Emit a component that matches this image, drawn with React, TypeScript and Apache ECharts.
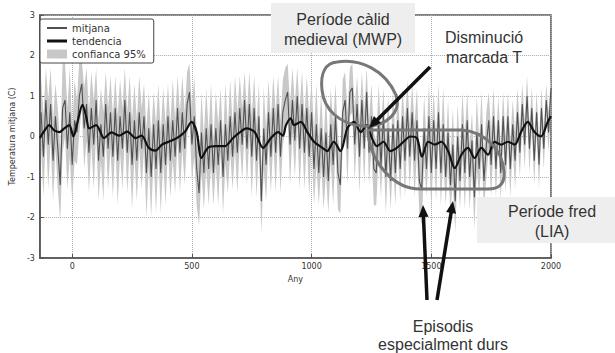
import { useEffect, useRef } from "react";
import * as echarts from "echarts";

// ---- data ----
const START_YEAR = -130;
const STEP = 10;

// annual mean temperature anomaly, sampled every 10 years from -130 to 2000
const mitjana = [
  0.6, -0.5, 0.9, -0.2, 0.8, -0.6, 0.5, -0.3, -1.2, 0.7,
  0.9, -0.3, 0.6, -0.7, 0.4, 0.1, 1.0, 1.3, 0.2, 0.8,
  -0.4, 0.7, -0.2, 0.9, -0.6, 0.3, -0.5, 0.8, -0.3, 0.6,
  -0.5, 0.7, -0.6, 0.5, -0.3, 0.9, -0.4, 0.6, -0.7, 0.4,
  -0.6, 0.6, -0.3, 0.5, -0.9, 0.2, -1.0, 0.3, -0.8, 0.4,
  -0.9, 0.3, -0.7, 0.5, -0.6, 0.4, -0.5, 0.7, -0.4, 0.6,
  -0.3, 0.8, 1.1, -0.2, 0.5, -0.8, -1.4, 0.1, -0.9, 0.2,
  -0.8, 0.3, -0.9, 0.2, -0.7, 0.4, -1.0, 0.3, -0.6, 0.5,
  -0.5, 0.6, -0.4, 0.7, -0.2, 0.9, -0.3, 0.8, -0.5, 0.7,
  -0.6, 0.5, -1.6, 0.2, -0.7, 0.6, -0.5, 0.7, -0.4, 0.8,
  -0.5, 0.6, 0.9, 1.1, -0.2, 0.9, -0.1, 1.0, -0.3, 0.8,
  -0.4, 0.7, -0.5, 0.6, -0.8, 0.3, -0.9, 0.2, -1.0, 0.1,
  -1.1, 0.3, -0.7, 0.5, -0.9, -1.2, 0.6, 0.9, -0.3, 1.1,
  1.2, -0.2, 0.8, -0.5, 0.9, -0.3, 1.1, -0.4, 0.5, -0.8,
  -0.9, 0.4, -0.7, 0.5, -1.0, 0.2, -1.1, 0.3, -0.9, 0.4,
  -0.8, 0.5, -0.6, 0.7, -0.5, 0.6, -0.6, 0.4, -1.1, -1.3,
  0.2, -0.8, 0.5, -0.9, 0.4, -0.8, 0.6, -0.9, 0.3, -1.0,
  0.1, -1.2, -0.2, -1.6, 0.0, -1.1, 0.3, -0.9, 0.4, -1.0,
  -0.1, -1.5, 0.1, -0.8, 0.3, -1.1, -0.2, 0.4, -0.7, 0.5,
  -0.8, 0.4, -0.9, 0.5, -0.7, 0.5, -0.8, 0.3, -0.6, 0.6,
  -0.4, 0.8, -0.2, 1.0, -0.3, 0.7, -0.6, 0.6, -0.7, 0.7,
  -0.3, 0.9, 0.1, 1.2,
];

// half width of the 95% confidence band at the same years
const ciHalf = [
  0.9, 1.0, 0.8, 1.1, 0.9, 1.0, 0.8, 1.0, 0.9, 1.1,
  0.9, 1.0, 1.1, 0.9, 1.0, 0.8, 0.9, 0.6, 1.0, 0.9,
  1.0, 0.9, 1.1, 0.8, 1.0, 0.9, 1.1, 0.8, 1.0, 0.9,
  1.0, 0.8, 1.1, 0.9, 1.0, 0.8, 1.0, 0.9, 1.1, 0.9,
  1.0, 0.9, 1.0, 0.8, 1.1, 0.9, 1.0, 0.8, 1.1, 0.9,
  1.0, 0.9, 1.0, 0.8, 0.9, 1.0, 0.9, 0.8, 1.0, 0.9,
  0.9, 0.8, 0.7, 0.9, 1.0, 0.9, 0.8, 1.0, 0.9, 1.0,
  0.9, 1.0, 0.8, 0.9, 1.0, 0.8, 0.9, 1.0, 0.8, 0.9,
  0.8, 0.9, 1.0, 0.8, 0.9, 0.7, 0.9, 0.8, 1.0, 0.8,
  0.9, 0.8, 0.8, 1.0, 0.9, 0.8, 0.9, 0.8, 1.0, 0.7,
  0.9, 0.8, 0.8, 0.7, 1.0, 0.8, 0.9, 0.7, 1.0, 0.8,
  0.9, 0.8, 1.0, 0.8, 0.9, 1.0, 0.8, 0.9, 0.8, 1.0,
  0.8, 0.9, 1.0, 0.8, 0.9, 0.7, 0.8, 0.7, 0.9, 0.6,
  0.6, 0.9, 0.7, 0.9, 0.7, 0.9, 0.6, 0.8, 0.8, 0.9,
  0.8, 0.9, 0.8, 0.7, 0.9, 0.8, 0.7, 0.9, 0.8, 0.7,
  0.8, 0.7, 0.9, 0.7, 0.8, 0.7, 0.9, 0.8, 0.8, 0.9,
  0.8, 0.7, 0.8, 0.9, 0.7, 0.8, 0.7, 0.8, 0.9, 0.7,
  0.8, 0.7, 0.9, 0.8, 0.8, 0.7, 0.8, 0.9, 0.7, 0.8,
  0.7, 0.8, 0.9, 0.7, 0.8, 0.7, 0.8, 0.7, 0.8, 0.7,
  0.7, 0.6, 0.7, 0.6, 0.7, 0.6, 0.7, 0.6, 0.7, 0.6,
  0.6, 0.5, 0.6, 0.5, 0.6, 0.5, 0.6, 0.5, 0.6, 0.5,
  0.5, 0.4, 0.5, 0.4,
];

// smoothed trend
const trendYears = [
  -135, -115, -96, -75, -54, -33, -12, 5, 20, 43, 60, 71, 100, 133, 165, 195,
  230, 265, 290, 320, 348, 375, 403, 437, 470, 499, 520, 540, 567, 600, 637,
  670, 700, 728, 762, 797, 830, 860, 880, 893, 913, 927, 955, 982, 1010, 1045,
  1065, 1093, 1121, 1149, 1177, 1205, 1230, 1252, 1273, 1300, 1329, 1356, 1384,
  1412, 1440, 1461, 1487, 1515, 1542, 1570, 1598, 1626, 1653, 1681, 1709, 1737,
  1764, 1792, 1820, 1848, 1875, 1903, 1931, 1958, 1986, 2000,
];
const tendencia = [
  -0.04, 0.15, 0.28, 0.15, 0.11, 0.2, 0.28, 0.0, 0.3, 0.78, 0.45, 0.2, 0.28,
  -0.04, 0.1, 0.02, 0.12, -0.04, 0.02, -0.28, -0.35, -0.2, -0.13, -0.04, 0.11,
  0.36, 0.11, -0.53, -0.28, -0.24, -0.24, -0.05, 0.1, 0.2, 0.11, -0.28, -0.04,
  0.11, 0.02, 0.28, 0.45, 0.28, 0.36, 0.11, -0.13, -0.28, -0.36, -0.13, -0.36,
  0.2, 0.36, 0.11, 0.28, -0.04, -0.24, -0.13, -0.36, -0.28, -0.13, 0.0, -0.04,
  -0.5, -0.13, -0.2, -0.13, -0.36, -0.78, -0.45, -0.28, -0.53, -0.28, -0.45,
  -0.13, -0.2, -0.13, -0.2, 0.11, 0.36, 0.11, 0.0, 0.36, 0.5,
];

const X_MIN = -135;
const X_MAX = 2000;
const Y_MIN = -3;
const Y_MAX = 3;

// ---- annotation shapes ----
const MWP_PATH =
  "M337 62 C360 58 385 70 396 95 C402 112 386 128 362 126 C340 124 324 110 322 90 C320 72 326 63 337 62 Z";
const LIA_PATH =
  "M368 130 L462 130 C485 132 503 150 504 172 C505 185 498 189 488 189 L420 189 C395 189 372 165 368 134 Z";
echarts.graphic.registerShape("mwpBlob", echarts.graphic.extendPath(MWP_PATH, {}) as any);
echarts.graphic.registerShape("liaBlob", echarts.graphic.extendPath(LIA_PATH, {}) as any);

function arrow(x1: number, y1: number, x2: number, y2: number) {
  const head = 12;
  const dx = x2 - x1;
  const dy = y2 - y1;
  const len = Math.sqrt(dx * dx + dy * dy);
  const ux = dx / len;
  const uy = dy / len;
  const bx = x2 - ux * head;
  const by = y2 - uy * head;
  const px = -uy * head * 0.42;
  const py = ux * head * 0.42;
  return [
    {
      type: "line",
      z: 100,
      shape: { x1, y1, x2: bx + ux * 2, y2: by + uy * 2 },
      style: { stroke: "#111", lineWidth: 3.5 },
    },
    {
      type: "polygon",
      z: 100,
      shape: { points: [[x2, y2], [bx + px, by + py], [bx - px, by - py]] },
      style: { fill: "#111" },
    },
  ];
}

const annFont = "'Liberation Sans', Arial, sans-serif";
const tickFont = "'DejaVu Sans', sans-serif";
const BAND = "#c8c8c8";
const MEAN = "#505050";
const TREND = "#111111";

export default function App() {
  const ref = useRef<HTMLDivElement>(null);
  useEffect(() => {
    if (!ref.current) return;
    const chart = echarts.init(ref.current, null, { renderer: "svg" });
    const years = mitjana.map((_, i) => START_YEAR + i * STEP);
    const meanData = years.map((y, i) => [y, mitjana[i]]);
    const bandData = years.map((y, i) => [
      y,
      +(mitjana[i] - ciHalf[i]).toFixed(2),
      +(mitjana[i] + ciHalf[i]).toFixed(2),
    ]);
    const trendData = trendYears.map((y, i) => [y, tendencia[i]]);

    const textBox = (cx: number, cy: number, text: string, lh = 20) => ({
      type: "text",
      z: 101,
      x: cx,
      y: cy,
      style: {
        text,
        fill: "#333",
        font: `16px ${annFont}`,
        align: "center",
        verticalAlign: "middle",
        lineHeight: lh,
      },
    });

    chart.setOption({
      animation: false,
      backgroundColor: "#fff",
      grid: {
        left: 37,
        right: 64,
        top: 15,
        bottom: 95,
        show: true,
        borderColor: "#555",
        borderWidth: 1.5,
        backgroundColor: "transparent",
      },
      legend: {
        orient: "vertical",
        left: 40,
        top: 19,
        padding: [4, 8, 4, 7],
        itemGap: 3,
        itemWidth: 20,
        itemHeight: 9,
        borderColor: "#444",
        borderWidth: 1,
        borderRadius: 2,
        backgroundColor: "#fff",
        textStyle: { fontSize: 10, color: "#333", fontFamily: tickFont },
        data: [
          { name: "mitjana", icon: "path://M0,0H20V2H0Z" },
          { name: "tendencia", icon: "path://M0,0H20V3H0Z" },
          { name: "confianca 95%", icon: "rect" },
        ],
      },
      xAxis: {
        type: "value",
        min: X_MIN,
        max: X_MAX,
        name: "Any",
        nameLocation: "middle",
        nameGap: 17,
        nameTextStyle: { fontSize: 8, color: "#333", fontFamily: tickFont },
        axisLine: { show: true, onZero: false, lineStyle: { color: "#555", width: 1.5 } },
        axisTick: { show: true, inside: true, length: 4, lineStyle: { color: "#555" } },
        axisLabel: {
          showMinLabel: false,
          fontSize: 8,
          color: "#333",
          margin: 4,
          fontFamily: tickFont,
          formatter: (v: number) => String(v),
        },
        splitLine: { show: true, lineStyle: { type: "dotted", color: "#aaa", width: 1 } },
      },
      yAxis: {
        type: "value",
        min: Y_MIN,
        max: Y_MAX,
        interval: 1,
        name: "Temperatura mitjana (C)",
        nameLocation: "middle",
        nameGap: 21,
        nameTextStyle: { fontSize: 8, color: "#333", fontFamily: tickFont },
        axisLine: { show: true, onZero: false, lineStyle: { color: "#555", width: 1.5 } },
        axisTick: { show: true, inside: true, length: 4, lineStyle: { color: "#555" } },
        axisLabel: { fontSize: 8, color: "#333", margin: 5, fontFamily: tickFont },
        splitLine: { show: true, lineStyle: { type: "dotted", color: "#aaa", width: 1 } },
      },
      series: [
        {
          name: "confianca 95%",
          type: "custom",
          data: bandData,
          encode: { x: 0, y: [1, 2] },
          itemStyle: { color: BAND },
          z: 1,
          silent: true,
          renderItem: (params: any, api: any) => {
            if (params.dataIndex !== 0) return null;
            const top = bandData.map((d) => api.coord([d[0], d[2]]));
            const bottom = bandData.map((d) => api.coord([d[0], d[1]])).reverse();
            return {
              type: "polygon",
              shape: { points: top.concat(bottom) },
              style: { fill: BAND, stroke: "none" },
            };
          },
        },
        {
          name: "mitjana",
          type: "line",
          data: meanData,
          symbol: "none",
          itemStyle: { color: MEAN },
          lineStyle: { color: MEAN, width: 1.1 },
          z: 2,
        },
        {
          name: "tendencia",
          type: "line",
          data: trendData,
          symbol: "none",
          smooth: 0.3,
          itemStyle: { color: TREND },
          lineStyle: { color: TREND, width: 2.2 },
          z: 3,
        },
      ],
      graphic: [
        {
          type: "rect",
          z: 99,
          shape: { x: 271, y: 3, width: 144, height: 50 },
          style: { fill: "#eeeeee" },
        },
        textBox(343, 29, "Període càlid\nmedieval (MWP)"),
        {
          type: "rect",
          z: 99,
          shape: { x: 477, y: 197, width: 138, height: 46 },
          style: { fill: "#eeeeee" },
        },
        textBox(552, 221, "Període fred\n(LIA)"),
        textBox(484, 47, "Disminució\nmarcada T"),
        textBox(443, 335, "Episodis\nespecialment durs", 18),
        {
          type: "mwpBlob",
          z: 100,
          x: 0,
          y: 0,
          style: { fill: "none", stroke: "#777", lineWidth: 3 },
        },
        {
          type: "liaBlob",
          z: 100,
          x: 0,
          y: 0,
          style: { fill: "none", stroke: "#777", lineWidth: 3 },
        },
        ...arrow(430, 67, 369, 128),
        ...arrow(427, 300, 423, 205),
        ...arrow(437, 300, 453, 201),
      ],
    });
    return () => chart.dispose();
  }, []);
  return (
    <div
      ref={ref}
      style={{ position: "absolute", left: 0, top: 0, width: 615, height: 353, background: "#fff" }}
    />
  );
}
